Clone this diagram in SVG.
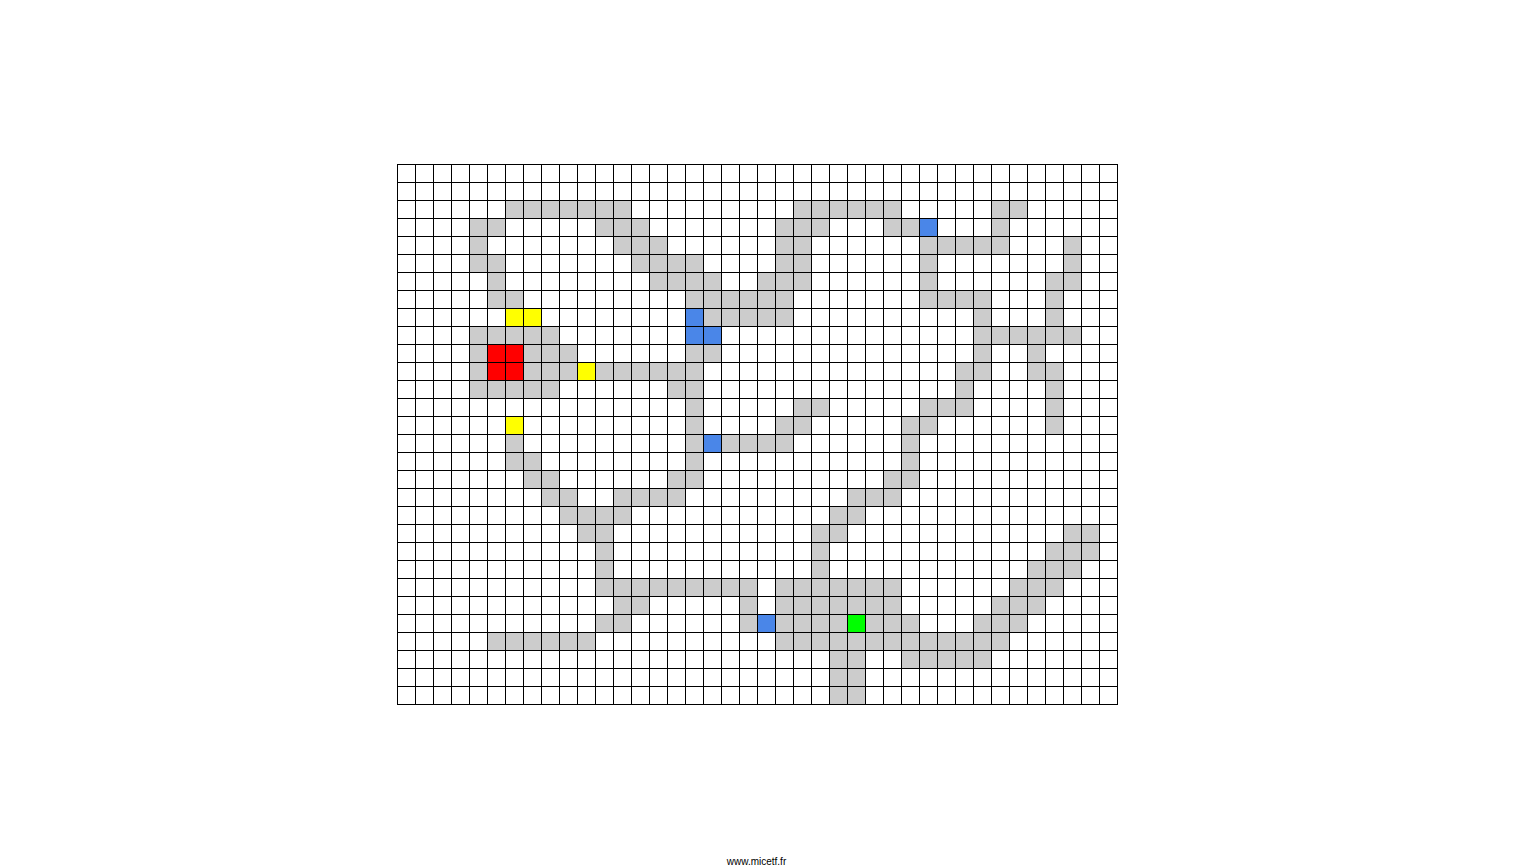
<svg xmlns="http://www.w3.org/2000/svg" width="1513" height="867" viewBox="0 0 1513 867">
<style>
.g{fill:#cccccc}.y{fill:#ffff00}.r{fill:#ff0000}.b{fill:#4a86e8}.v{fill:#00ff00}
.grid{fill:none;stroke:#000;stroke-width:1}
.credit{font-family:"Liberation Sans",Arial,sans-serif;font-size:10px;fill:#000}
</style>
<rect width="1513" height="867" fill="#fff"/>
<g id="cells" transform="translate(397 164) scale(18)">
<g id="path-cells" class="g">
<rect x="6" y="2" width="7" height="1"/><rect x="22" y="2" width="6" height="1"/><rect x="33" y="2" width="2" height="1"/>
<rect x="4" y="3" width="2" height="1"/><rect x="11" y="3" width="3" height="1"/><rect x="21" y="3" width="3" height="1"/><rect x="27" y="3" width="2" height="1"/><rect x="33" y="3" width="1" height="1"/>
<rect x="4" y="4" width="1" height="1"/><rect x="12" y="4" width="3" height="1"/><rect x="21" y="4" width="2" height="1"/><rect x="29" y="4" width="5" height="1"/><rect x="37" y="4" width="1" height="1"/>
<rect x="4" y="5" width="2" height="1"/><rect x="13" y="5" width="4" height="1"/><rect x="21" y="5" width="2" height="1"/><rect x="29" y="5" width="1" height="1"/><rect x="37" y="5" width="1" height="1"/>
<rect x="5" y="6" width="1" height="1"/><rect x="14" y="6" width="4" height="1"/><rect x="20" y="6" width="3" height="1"/><rect x="29" y="6" width="1" height="1"/><rect x="36" y="6" width="2" height="1"/>
<rect x="5" y="7" width="2" height="1"/><rect x="16" y="7" width="6" height="1"/><rect x="29" y="7" width="4" height="1"/><rect x="36" y="7" width="1" height="1"/>
<rect x="17" y="8" width="5" height="1"/><rect x="32" y="8" width="1" height="1"/><rect x="36" y="8" width="1" height="1"/>
<rect x="4" y="9" width="5" height="1"/><rect x="32" y="9" width="6" height="1"/>
<rect x="4" y="10" width="1" height="1"/><rect x="7" y="10" width="3" height="1"/><rect x="16" y="10" width="2" height="1"/><rect x="32" y="10" width="1" height="1"/><rect x="35" y="10" width="1" height="1"/>
<rect x="4" y="11" width="1" height="1"/><rect x="7" y="11" width="3" height="1"/><rect x="11" y="11" width="6" height="1"/><rect x="31" y="11" width="2" height="1"/><rect x="35" y="11" width="2" height="1"/>
<rect x="4" y="12" width="5" height="1"/><rect x="15" y="12" width="2" height="1"/><rect x="31" y="12" width="1" height="1"/><rect x="36" y="12" width="1" height="1"/>
<rect x="16" y="13" width="1" height="1"/><rect x="22" y="13" width="2" height="1"/><rect x="29" y="13" width="3" height="1"/><rect x="36" y="13" width="1" height="1"/>
<rect x="16" y="14" width="1" height="1"/><rect x="21" y="14" width="2" height="1"/><rect x="28" y="14" width="2" height="1"/><rect x="36" y="14" width="1" height="1"/>
<rect x="6" y="15" width="1" height="1"/><rect x="16" y="15" width="1" height="1"/><rect x="18" y="15" width="4" height="1"/><rect x="28" y="15" width="1" height="1"/>
<rect x="6" y="16" width="2" height="1"/><rect x="16" y="16" width="1" height="1"/><rect x="28" y="16" width="1" height="1"/>
<rect x="7" y="17" width="2" height="1"/><rect x="15" y="17" width="2" height="1"/><rect x="27" y="17" width="2" height="1"/>
<rect x="8" y="18" width="2" height="1"/><rect x="12" y="18" width="4" height="1"/><rect x="25" y="18" width="3" height="1"/>
<rect x="9" y="19" width="4" height="1"/><rect x="24" y="19" width="2" height="1"/>
<rect x="10" y="20" width="2" height="1"/><rect x="23" y="20" width="2" height="1"/><rect x="37" y="20" width="2" height="1"/>
<rect x="11" y="21" width="1" height="1"/><rect x="23" y="21" width="1" height="1"/><rect x="36" y="21" width="3" height="1"/>
<rect x="11" y="22" width="1" height="1"/><rect x="23" y="22" width="1" height="1"/><rect x="35" y="22" width="3" height="1"/>
<rect x="11" y="23" width="9" height="1"/><rect x="21" y="23" width="7" height="1"/><rect x="34" y="23" width="3" height="1"/>
<rect x="12" y="24" width="2" height="1"/><rect x="19" y="24" width="1" height="1"/><rect x="21" y="24" width="7" height="1"/><rect x="33" y="24" width="3" height="1"/>
<rect x="11" y="25" width="2" height="1"/><rect x="19" y="25" width="1" height="1"/><rect x="21" y="25" width="4" height="1"/><rect x="26" y="25" width="3" height="1"/><rect x="32" y="25" width="3" height="1"/>
<rect x="5" y="26" width="6" height="1"/><rect x="21" y="26" width="13" height="1"/>
<rect x="24" y="27" width="2" height="1"/><rect x="28" y="27" width="5" height="1"/>
<rect x="24" y="28" width="2" height="1"/>
<rect x="24" y="29" width="2" height="1"/>
</g>
<g id="yellow-cells" class="y">
<rect x="6" y="8" width="2" height="1"/><rect x="10" y="11" width="1" height="1"/><rect x="6" y="14" width="1" height="1"/>
</g>
<g id="red-cells" class="r">
<rect x="5" y="10" width="2" height="2"/>
</g>
<g id="blue-cells" class="b">
<rect x="29" y="3" width="1" height="1"/><rect x="16" y="8" width="1" height="2"/><rect x="17" y="9" width="1" height="1"/><rect x="17" y="15" width="1" height="1"/><rect x="20" y="25" width="1" height="1"/>
</g>
<g id="green-cell" class="v">
<rect x="25" y="25" width="1" height="1"/>
</g>
</g>
<g id="grid-lines">
<path class="grid" d="M397.5 164V705M415.5 164V705M433.5 164V705M451.5 164V705M469.5 164V705M487.5 164V705M505.5 164V705M523.5 164V705M541.5 164V705M559.5 164V705M577.5 164V705M595.5 164V705M613.5 164V705M631.5 164V705M649.5 164V705M667.5 164V705M685.5 164V705M703.5 164V705M721.5 164V705M739.5 164V705M757.5 164V705M775.5 164V705M793.5 164V705M811.5 164V705M829.5 164V705M847.5 164V705M865.5 164V705M883.5 164V705M901.5 164V705M919.5 164V705M937.5 164V705M955.5 164V705M973.5 164V705M991.5 164V705M1009.5 164V705M1027.5 164V705M1045.5 164V705M1063.5 164V705M1081.5 164V705M1099.5 164V705M1117.5 164V705"/>
<path class="grid" d="M397 164.5H1118M397 182.5H1118M397 200.5H1118M397 218.5H1118M397 236.5H1118M397 254.5H1118M397 272.5H1118M397 290.5H1118M397 308.5H1118M397 326.5H1118M397 344.5H1118M397 362.5H1118M397 380.5H1118M397 398.5H1118M397 416.5H1118M397 434.5H1118M397 452.5H1118M397 470.5H1118M397 488.5H1118M397 506.5H1118M397 524.5H1118M397 542.5H1118M397 560.5H1118M397 578.5H1118M397 596.5H1118M397 614.5H1118M397 632.5H1118M397 650.5H1118M397 668.5H1118M397 686.5H1118M397 704.5H1118"/>
</g>
<text class="credit" x="756.5" y="865" text-anchor="middle">www.micetf.fr</text>
</svg>
